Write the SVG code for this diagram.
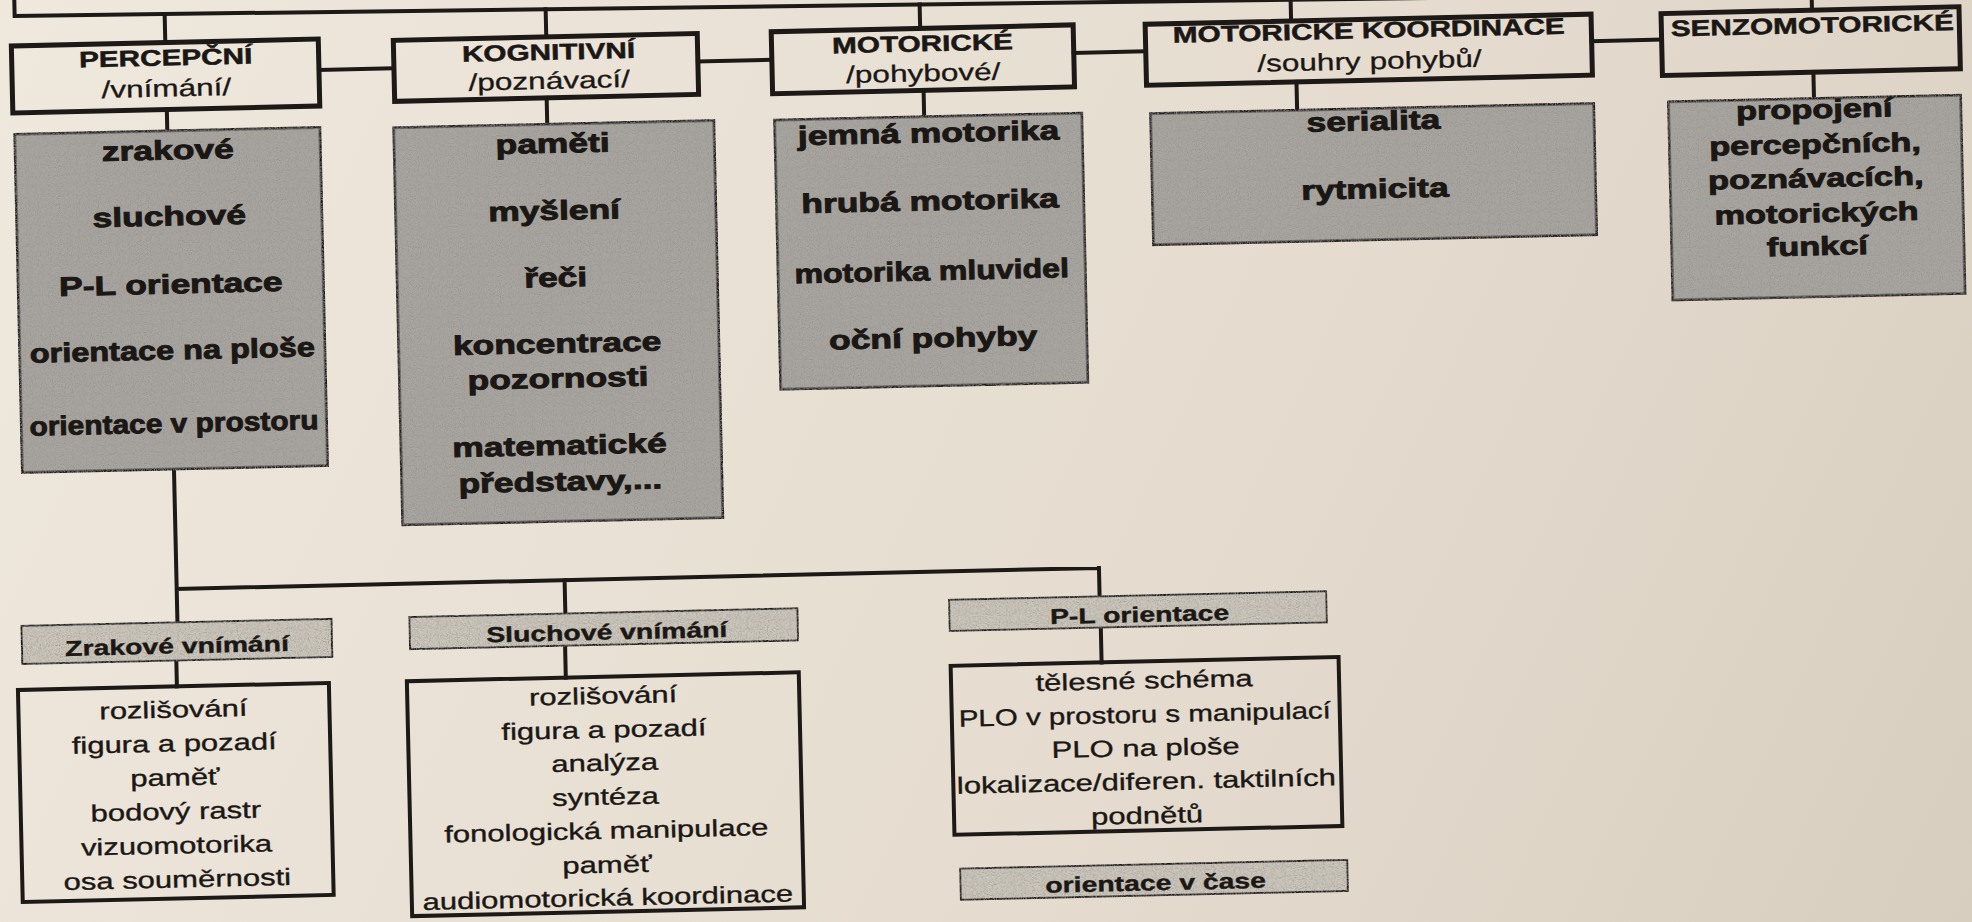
<svg xmlns="http://www.w3.org/2000/svg" width="1972" height="922" viewBox="0 0 1972 922">
<defs>
<linearGradient id="paper" x1="0" y1="0" x2="1972" y2="922" gradientUnits="userSpaceOnUse">
<stop offset="0" stop-color="#efe8dd"/>
<stop offset="0.6" stop-color="#e5dccf"/>
<stop offset="1" stop-color="#d8cec0"/>
</linearGradient>
<filter id="grain" x="0" y="0" width="100%" height="100%">
<feTurbulence type="fractalNoise" baseFrequency="0.9" numOctaves="1" seed="4" result="noise"/>
<feColorMatrix in="noise" type="matrix" values="0 0 0 0 0.28 0 0 0 0 0.27 0 0 0 0 0.26 2.6 0 0 0 -1.15" result="spots"/>
<feComposite in="spots" in2="SourceGraphic" operator="in" result="clipped"/>
<feMerge><feMergeNode in="SourceGraphic"/><feMergeNode in="clipped"/></feMerge>
</filter>
<style>
.ln{fill:none;stroke:#1c1916;stroke-width:4;stroke-linecap:square}
.hb{fill:none;stroke:#1c1916;stroke-width:5}
.sb{fill:#a9a6a0;stroke:#1c1916;stroke-width:5;filter:url(#grain)}
.lb{fill:#cdc7bc;stroke:#1c1916;stroke-width:4;filter:url(#grain)}
.wb{fill:none;stroke:#1c1916;stroke-width:4}
text{font-family:"Liberation Sans",Arial,sans-serif;fill:#1a1714;stroke:#1a1714;text-anchor:middle}
.h1{font-size:22.5px;font-weight:bold;stroke-width:0.5}
.h2{font-size:23.9px;stroke-width:0.3}
.li{font-size:26.8px;font-weight:bold;stroke-width:0.9}
.li2{font-size:26px;font-weight:bold;stroke-width:0.9}
.bh{font-size:21.5px;font-weight:bold;stroke-width:0.4}
.bl{font-size:23.5px;stroke-width:0.35}
</style>
</defs>
<rect x="0" y="0" width="1972" height="922" fill="url(#paper)"/>
<g transform="rotate(-1.3 986 461)">
<g id="connectors">
<path class="ln" d="M25,-30 V-6 L1822,12"/>
<path class="ln" d="M175,-4.5 V24 M556,-0.7 V27 M930,3 V27 M1301,6.8 V28 M1822,12 V29"/>
<path class="ln" d="M328,55 H403 M707,55 H781 M1083,55 H1155 M1601,55 H1671"/>
<path class="ln" d="M175,91 V111 M555,88 V113 M932,89 V114 M1305,89 V116 M1822,91 V116"/>
<path class="ln" d="M174,452 V603 M174,570.5 H1096.5 M562,570.5 V603 M1096.5,570.5 V598 M172,643 V668 M561,637 V668 M1097,631 V665"/>
</g>

<g id="percepcni">
<rect class="hb" x="21" y="24" width="307" height="67"/>
<g transform="scale(1.32 1)">
<text class="h1" x="132.6" y="47">PERCEPČNÍ</text>
<text class="h2" x="132.6" y="78">/vnímání/</text>
</g>
</g>
<g id="kognitivni">
<rect class="hb" x="403" y="27" width="304" height="61"/>
<g transform="scale(1.32 1)">
<text class="h1" x="422.7" y="50">KOGNITIVNÍ</text>
<text class="h2" x="422.7" y="79">/poznávací/</text>
</g>
</g>
<g id="motoricke">
<rect class="hb" x="781" y="27" width="302" height="62"/>
<g transform="scale(1.32 1)">
<text class="h1" x="706.1" y="50">MOTORICKÉ</text>
<text class="h2" x="706.1" y="80">/pohybové/</text>
</g>
</g>
<g id="koordinace">
<rect class="hb" x="1155" y="28" width="446" height="61"/>
<g transform="scale(1.32 1)">
<text class="h1" x="1044.3" y="47">MOTORICKÉ KOORDINACE</text>
<text class="h2" x="1044.3" y="78">/souhry pohybů/</text>
</g>
</g>
<g id="senzomotoricke">
<rect class="hb" x="1671" y="29" width="298" height="62"/>
<g transform="scale(1.32 1)">
<text class="h1" x="1380.3" y="52">SENZOMOTORICKÉ</text>
</g>
</g>

<g id="percepcni-list">
<rect class="sb" x="21" y="111" width="308" height="341"/>
<g transform="scale(1.32 1)">
<text class="li" x="132.6" y="141">zrakové</text>
<text class="li" x="132.6" y="207">sluchové</text>
<text class="li" x="132.6" y="275">P-L orientace</text>
<text class="li" x="132.6" y="341" textLength="216" lengthAdjust="spacingAndGlyphs">orientace na ploše</text>
<text class="li" x="132.6" y="414" textLength="219" lengthAdjust="spacingAndGlyphs">orientace v prostoru</text>
</g>
</g>
<g id="kognitivni-list">
<rect class="sb" x="400" y="113" width="323" height="400"/>
<g transform="scale(1.32 1)">
<text class="li" x="424.2" y="143">paměti</text>
<text class="li" x="424.2" y="210">myšlení</text>
<text class="li" x="424.2" y="277">řeči</text>
<text class="li" x="424.2" y="343">koncentrace</text>
<text class="li" x="424.2" y="378">pozornosti</text>
<text class="li" x="424.2" y="445">matematické</text>
<text class="li" x="424.2" y="481">představy,...</text>
</g>
</g>
<g id="motoricke-list">
<rect class="sb" x="781" y="114" width="310" height="272"/>
<g transform="scale(1.32 1)">
<text class="li" x="709.1" y="141">jemná motorika</text>
<text class="li" x="709.1" y="209">hrubá motorika</text>
<text class="li" x="709.1" y="279" textLength="208" lengthAdjust="spacingAndGlyphs">motorika mluvidel</text>
<text class="li" x="709.1" y="346">oční pohyby</text>
</g>
</g>
<g id="koordinace-list">
<rect class="sb" x="1157" y="116" width="446" height="134"/>
<g transform="scale(1.32 1)">
<text class="li" x="1046.2" y="139">serialita</text>
<text class="li" x="1046.2" y="207">rytmicita</text>
</g>
</g>
<g id="senzomotoricke-list">
<rect class="sb" x="1675" y="116" width="295" height="201"/>
<g transform="scale(1.32 1)">
<text class="li2" x="1380.3" y="137">propojení</text>
<text class="li2" x="1380.3" y="172">percepčních,</text>
<text class="li2" x="1380.3" y="206">poznávacích,</text>
<text class="li2" x="1380.3" y="241">motorických</text>
<text class="li2" x="1380.3" y="274">funkcí</text>
</g>
</g>

<g id="zrakove-vnimani">
<rect class="lb" x="17" y="603" width="312" height="40"/>
<g transform="scale(1.32 1)">
<text class="bh" x="131.1" y="635">Zrakové vnímání</text>
</g>
</g>
<g id="zrakove-list">
<rect class="wb" x="13" y="668" width="311" height="212"/>
<g transform="scale(1.32 1)">
<text class="bl" x="127.3" y="699">rozlišování</text>
<text class="bl" x="127.3" y="733">figura a pozadí</text>
<text class="bl" x="127.3" y="767">paměť</text>
<text class="bl" x="127.3" y="801">bodový rastr</text>
<text class="bl" x="127.3" y="835">vizuomotorika</text>
<text class="bl" x="127.3" y="869">osa souměrnosti</text>
</g>
</g>
<g id="sluchove-vnimani">
<rect class="lb" x="405" y="603" width="390" height="34"/>
<g transform="scale(1.32 1)">
<text class="bh" x="456.8" y="631">Sluchové vnímání</text>
</g>
</g>
<g id="sluchove-list">
<rect class="wb" x="402" y="668" width="392" height="235"/>
<g transform="scale(1.32 1)">
<text class="bl" x="453" y="695">rozlišování</text>
<text class="bl" x="453" y="729">figura a pozadí</text>
<text class="bl" x="453" y="762">analýza</text>
<text class="bl" x="453" y="796">syntéza</text>
<text class="bl" x="453" y="830">fonologická manipulace</text>
<text class="bl" x="453" y="864">paměť</text>
<text class="bl" x="453" y="897">audiomotorická koordinace</text>
</g>
</g>
<g id="pl-orientace">
<rect class="lb" x="945" y="598" width="379" height="33"/>
<g transform="scale(1.32 1)">
<text class="bh" x="860.6" y="625.5">P-L orientace</text>
</g>
</g>
<g id="pl-list">
<rect class="wb" x="946" y="665" width="388" height="169"/>
<g transform="scale(1.32 1)">
<text class="bl" x="862.9" y="692">tělesné schéma</text>
<text class="bl" x="862.9" y="726" textLength="282" lengthAdjust="spacingAndGlyphs">PLO v prostoru s manipulací</text>
<text class="bl" x="862.9" y="759.5">PLO na ploše</text>
<text class="bl" x="862.9" y="793">lokalizace/diferen. taktilních</text>
<text class="bl" x="862.9" y="827">podnětů</text>
</g>
</g>
<g id="orientace-v-case">
<rect class="lb" x="950" y="867" width="389" height="33"/>
<g transform="scale(1.32 1)">
<text class="bh" x="868.2" y="894">orientace v čase</text>
</g>
</g>
</g>
</svg>
